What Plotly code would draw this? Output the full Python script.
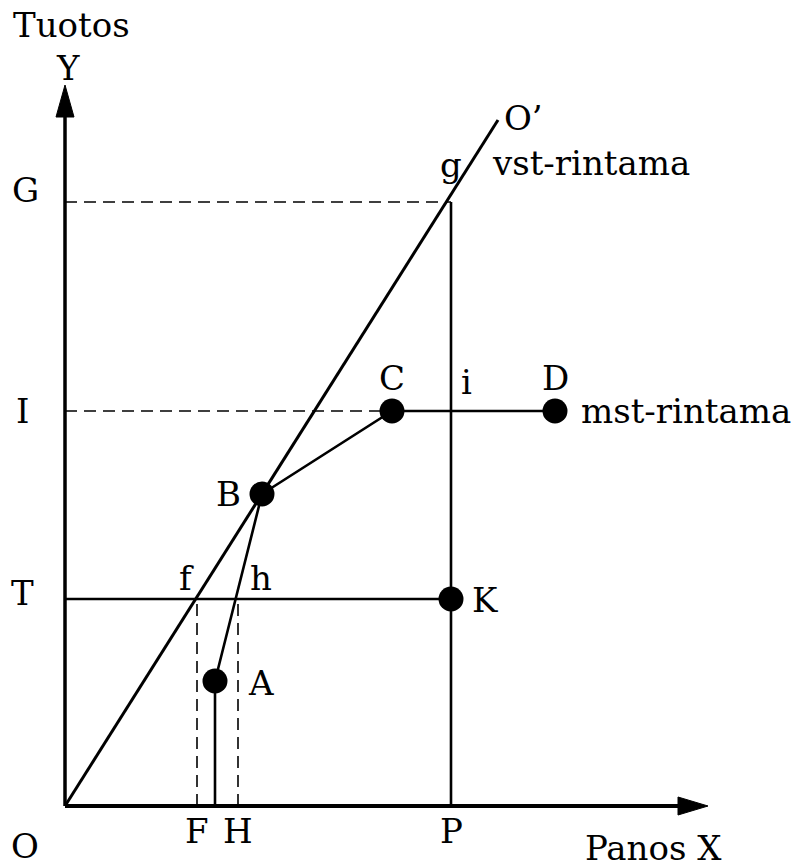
import plotly.graph_objects as go

# Diagram values (in drawing units, origin O at 0,0)
axis_x_end = 643
axis_y_end = 721

point_names = ["A", "B", "C", "D", "K"]
point_x = [150, 197, 327, 490, 386]
point_y = [125, 312, 395, 395, 207]

level_names = ["G", "I", "T"]
level_y = [604, 395, 207]

foot_names = ["F", "H", "P"]
foot_x = [132, 173, 386]

vst_end = (433, 686)   # O'
g_point = (386, 604)

FONT = "DejaVu Serif"
FS = 34
fig = go.Figure()

def line(xs, ys, w=2.4, dash="solid"):
    fig.add_trace(go.Scatter(x=xs, y=ys, mode="lines", line=dict(color="black", width=w, dash=dash),
                             hoverinfo="skip", showlegend=False))

A, B, C, D, K = [(px, py) for px, py in zip(point_x, point_y)]
G, I, T = level_y
F, H, P = foot_x

# axes
line([0, axis_x_end - 20], [0, 0], w=4)
line([0, 0], [0, axis_y_end - 20], w=3.5)
fig.add_trace(go.Scatter(x=[axis_x_end, axis_x_end - 30, axis_x_end - 30, axis_x_end],
                         y=[0, 9, -9, 0], fill="toself", fillcolor="black", mode="lines",
                         line=dict(color="black", width=1), hoverinfo="skip", showlegend=False))
fig.add_trace(go.Scatter(x=[0, -9, 9, 0], y=[axis_y_end, axis_y_end - 32, axis_y_end - 32, axis_y_end],
                         fill="toself", fillcolor="black", mode="lines",
                         line=dict(color="black", width=1), hoverinfo="skip", showlegend=False))

# dashed guides
DASH = "12px,7px"
line([0, g_point[0]], [G, G], w=1.6, dash=DASH)
line([0, C[0]], [I, I], w=1.6, dash=DASH)
line([F, F], [0, T], w=1.6, dash=DASH)
line([H, H], [0, T], w=1.6, dash=DASH)

# solid lines
line([0, vst_end[0]], [0, vst_end[1]], w=3)
line([A[0], B[0], C[0], D[0]], [A[1], B[1], C[1], D[1]], w=2.6)
line([A[0], A[0]], [0, A[1]], w=2.6)
line([P, P], [0, G], w=2.6)
line([0, K[0]], [T, T], w=2.4)

# points
fig.add_trace(go.Scatter(x=point_x, y=point_y, mode="markers",
                         marker=dict(color="black", size=25), hoverinfo="skip", showlegend=False))

def label(x, y, t, anchor="center"):
    fig.add_annotation(x=x, y=y, text=t, showarrow=False, xanchor=anchor, yanchor="middle",
                       font=dict(family=FONT, size=FS, color="black"))

label(6, 781, "Tuotos")
label(3, 738, "Y")
label(-40, G + 12, "G")
label(-43, I, "I")
label(-43, T + 6, "T")
label(-40, -40, "O")
for n, x in zip(foot_names, foot_x):
    label(x, -25, n)
label(588, -42, "Panos X")
label(vst_end[0] + 25, vst_end[1] + 2, "O’")
label(g_point[0], 641, "g")
label(425, 643, "vst-rintama", "left")
label(C[0], I + 33, "C")
label(401, I + 29, "i")
label(D[0], I + 33, "D")
label(D[0] + 24, I, "mst-rintama", "left")
label(B[0] - 34, B[1], "B")
label(121, T + 21, "f")
label(196, T + 21, "h")
label(K[0] + 34, T - 1, "K")
label(A[0] + 46, A[1] - 2, "A")

fig.update_layout(width=800, height=868, autosize=False, margin=dict(l=0, r=0, t=0, b=0),
                  plot_bgcolor="white", paper_bgcolor="white",
                  xaxis=dict(range=[-65, 735], visible=False, fixedrange=True),
                  yaxis=dict(range=[-62, 806], visible=False, fixedrange=True))
fig.write_html("out.html", config={"displayModeBar": False},
               post_script="document.body.style.margin='0';document.body.style.overflow='hidden';")
